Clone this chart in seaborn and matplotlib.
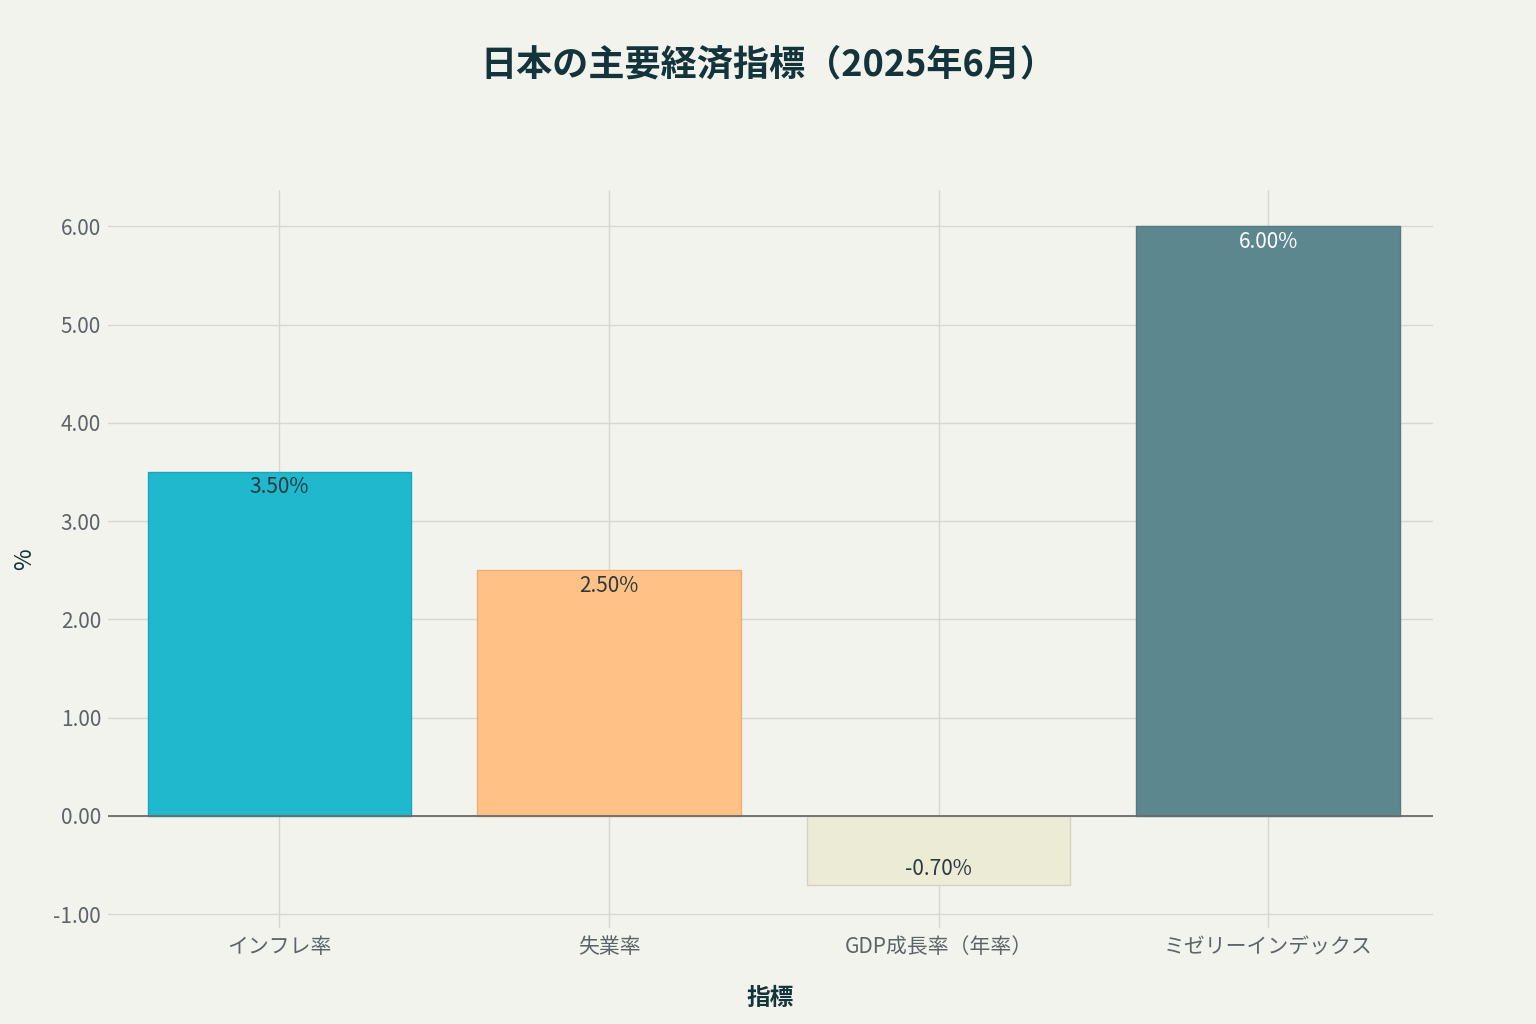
import matplotlib
matplotlib.use("Agg")
import matplotlib.pyplot as plt
import seaborn as sns
import pandas as pd
from matplotlib.colors import to_rgb

categories = ["インフレ率", "失業率", "GDP成長率（年率）", "ミゼリーインデックス"]
values = [3.5, 2.5, -0.7, 6.0]
colors = ["#1FB8CD", "#FFC185", "#ECEBD5", "#5D878F"]
label_colors = ["#2b3a3f", "#2b3a3f", "#2b3a3f", "#ffffff"]
yticks = [-1, 0, 1, 2, 3, 4, 5, 6]

title = "日本の主要経済指標（2025年6月）"
xlabel = "指標"
ylabel = "%"

sns.set_theme(style="white")
FONTS = ["Noto Sans CJK JP", "DejaVu Sans"]
plt.rcParams["font.family"] = FONTS
bg = "#F3F3EE"

fig = plt.figure(figsize=(15.36, 10.24), dpi=100, facecolor=bg)
ax = fig.add_axes([0.0703, 0.0938, 0.8627, 0.7207])
ax.set_facecolor(bg)

df = pd.DataFrame({"cat": categories, "val": values})
sns.barplot(data=df, x="cat", y="val", hue="cat", palette=colors, legend=False,
            width=0.8, saturation=1, ax=ax, zorder=3)

def darken(c, f=0.9):
    r, g, b = to_rgb(c)
    return (r * f, g * f, b * f)

for p, c in zip(ax.patches, colors):
    p.set_edgecolor(darken(c))
    p.set_linewidth(1.0)

for i, (v, lc) in enumerate(zip(values, label_colors)):
    off = -11 if v > 0 else 11
    ax.annotate(f"{v:.2f}%", xy=(i, v), xytext=(0, off), textcoords="offset points",
                ha="center", va="center", fontsize=15, color=lc, zorder=5)

ax.set_xlim(-0.52, 3.5)
ax.set_ylim(-1.14, 6.37)
ax.set_yticks(yticks)
ax.set_yticklabels([f"{t:.2f}" for t in yticks])
ax.grid(True, axis="both", color="#D6D6D2", linewidth=1.0, zorder=0)
ax.set_axisbelow(True)
ax.axhline(0, color="#6b6b6b", linewidth=1.3, zorder=4)
for s in ax.spines.values():
    s.set_visible(False)
ax.tick_params(axis="both", length=0, labelsize=15, labelcolor="#5d6468", pad=5)
ax.tick_params(axis="x", pad=6)

ax.set_xlabel(xlabel, fontsize=17, fontweight="bold", color="#13343B", labelpad=20)
ax.set_ylabel(ylabel, fontsize=17, color="#13343B", labelpad=12)

fig.suptitle(title, fontsize=26, fontweight="bold", color="#13343B", y=0.955)

fig.savefig("out.png", dpi=100, facecolor=bg)
